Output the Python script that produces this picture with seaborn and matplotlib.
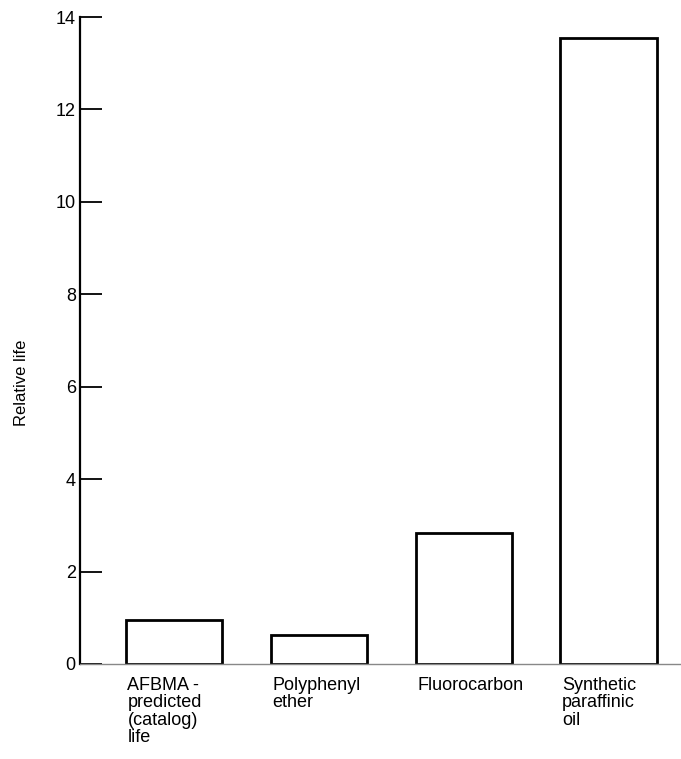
import matplotlib
matplotlib.use("Agg")
import matplotlib.pyplot as plt
import seaborn as sns

# values
categories = ["AFBMA -\npredicted\n(catalog)\nlife", "Polyphenyl\nether",
              "Fluorocarbon", "Synthetic\nparaffinic\noil"]
relative_life = [0.95, 0.62, 2.83, 13.55]
y_ticks = [0, 2, 4, 6, 8, 10, 12, 14]

sns.set_style("white")
plt.rcParams['font.family'] = ['Liberation Sans', 'DejaVu Sans']
plt.rcParams['text.color'] = 'black'
plt.rcParams['xtick.color'] = 'black'
plt.rcParams['ytick.color'] = 'black'

fig = plt.figure(figsize=(6.81, 7.59), dpi=100)
ax = fig.add_axes([80 / 681, 1 - 664 / 759, 1 - 80 / 681, (664 - 17) / 759])

bar_w = 0.665
sns.barplot(x=list(range(len(categories))), y=relative_life, ax=ax,
            width=bar_w, color="white", edgecolor="black", linewidth=2,
            saturation=1, native_scale=True)

ax.set_xlim(-0.65, 3.5)
ax.set_ylim(0, 14)
ax.set_yticks(y_ticks)
ax.set_yticklabels([str(t) for t in y_ticks], fontsize=13)
ax.tick_params(axis="y", direction="in", length=16, width=1.3, pad=3,
               left=True, color="black")

# category labels start at each bar's left edge
ax.set_xticks([i - bar_w / 2 + 0.01 for i in range(len(categories))])
ax.set_xticklabels(categories, ha="left", va="top", fontsize=13,
                   linespacing=1.05)
ax.tick_params(axis="x", length=0, pad=9)

for side in ["top", "right"]:
    ax.spines[side].set_visible(False)
ax.spines["left"].set_linewidth(1.6)
ax.spines["left"].set_color("black")
ax.spines["bottom"].set_linewidth(1)
ax.spines["bottom"].set_color("#888888")

ax.set_ylabel("")
fig.text(22 / 681, 1 - 383 / 759, "Relative life", rotation=90,
         ha="center", va="center", fontsize=12)

fig.savefig("out.png", dpi=100)
